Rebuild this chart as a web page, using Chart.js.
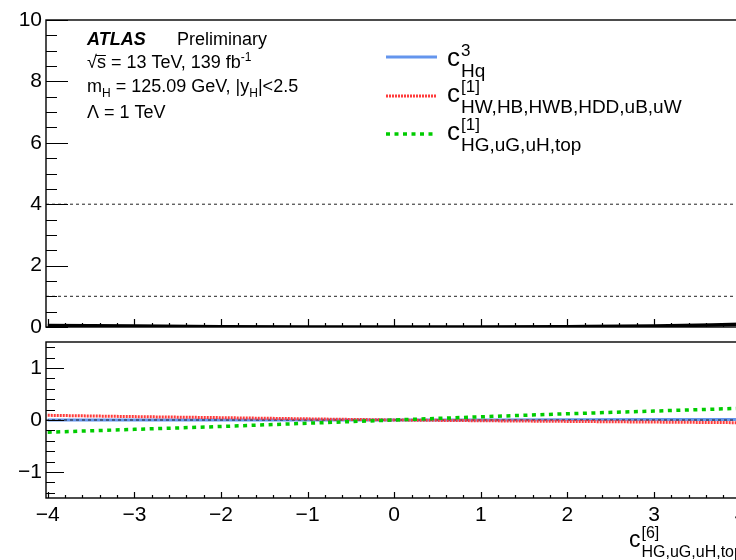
<!DOCTYPE html>
<html>
<head>
<meta charset="utf-8">
<script src="https://cdn.jsdelivr.net/npm/chart.js@4.4.1/dist/chart.umd.min.js"></script>
<style>
  html, body { margin: 0; padding: 0; background: #fff; overflow: hidden; }
  #wrap { position: relative; width: 820px; height: 560px; }
  #wrap canvas { position: absolute; left: 0; }
  #upper { top: 0; }
  #lower { top: 335px; }
</style>
</head>
<body>
<div id="wrap">
  <canvas id="upper" width="820" height="335"></canvas>
  <canvas id="lower" width="820" height="225"></canvas>
</div>
<script>
// values
const xValues = [-4, -3, -2, -1, 0, 1, 2, 3, 4];
const nllCurve = [0.05, 0.03, 0.01, 0.0, 0.0, 0.0, 0.01, 0.03, 0.09];
const shiftHq3 = [0.0, 0.0, 0.0, 0.0, 0.0, 0.0, 0.004, 0.008, 0.012];
const shiftHW = [0.09, 0.065, 0.045, 0.022, 0.0, -0.014, -0.027, -0.04, -0.052];
const shiftHG = [-0.235, -0.18, -0.125, -0.062, 0.0, 0.062, 0.12, 0.172, 0.225];
const upperRefLevels = [1, 4];
const lowerRefLevels = [0];

const xTicks = [-4, -3, -2, -1, 0, 1, 2, 3, 4];
const upperYTicks = [0, 2, 4, 6, 8, 10];
const lowerYTicks = [-1, 0, 1];

const legendSup = ['3', '[1]', '[1]'];
const legendSub = ['Hq', 'HW,HB,HWB,HDD,uB,uW', 'HG,uG,uH,top'];
const xTitleSup = '[6]';
const xTitleSub = 'HG,uG,uH,top';

const X_MIN = -4.02;
const X_MAX = 4.2;
const FONT = '"Liberation Sans", Arial, Helvetica, sans-serif';

Chart.defaults.font.family = FONT;
Chart.defaults.color = '#000';

const toPoints = (arr) => xValues.map((x, i) => ({ x, y: arr[i] }));
const refLine = (v) => ({
    data: [{ x: X_MIN, y: v }, { x: X_MAX, y: v }],
    borderColor: '#222',
    borderWidth: 1,
    borderDash: [3, 3],
    pointRadius: 0,
});
const minusLabel = (v) => String(v).replace('-', '\u2212');
const fixTicks = (list) => (scale) => { scale.ticks = list.map((value) => ({ value })); };

// draws a run of text pieces (size, vertical shift, weight/style)
function drawRich(ctx, x, y, parts) {
    parts.forEach((p) => {
        ctx.font = `${p.style || ''} ${p.size}px ${FONT}`;
        ctx.fillText(p.t, x, y + (p.dy || 0));
        x += ctx.measureText(p.t).width;
    });
    return x;
}

// ROOT-like frame with inward ticks
function panelFrame(cfg) {
    return {
        id: 'panelFrame',
        afterDatasetsDraw(chart) {
            const { ctx, chartArea: a, scales: { x, y } } = chart;
            ctx.save();
            ctx.strokeStyle = '#000';
            ctx.lineWidth = 1.4;
            ctx.strokeRect(a.left, a.top, a.right - a.left, a.bottom - a.top);
            ctx.lineWidth = 1.2;
            ctx.beginPath();
            for (let i = Math.ceil(y.min / cfg.yStep - 1e-6); i * cfg.yStep <= y.max + 1e-6; i++) {
                const v = i * cfg.yStep;
                const major = cfg.yMajor.some((m) => Math.abs(m - v) < 1e-6);
                const py = Math.round(y.getPixelForValue(v)) + 0.5;
                ctx.moveTo(a.left, py);
                ctx.lineTo(a.left + (major ? cfg.yLen : cfg.yLen / 2), py);
            }
            for (let i = Math.ceil(x.min / cfg.xStep - 1e-6); i * cfg.xStep <= x.max + 1e-6; i++) {
                const v = i * cfg.xStep;
                const major = cfg.xMajor.some((m) => Math.abs(m - v) < 1e-6);
                const px = Math.round(x.getPixelForValue(v)) + 0.5;
                ctx.moveTo(px, a.bottom);
                ctx.lineTo(px, a.bottom - (major ? cfg.xLen : cfg.xLen / 2));
            }
            ctx.stroke();
            ctx.restore();
        },
    };
}

const upperText = {
    id: 'upperText',
    afterDraw(chart) {
        const { ctx } = chart;
        ctx.save();
        ctx.fillStyle = '#000';
        ctx.textBaseline = 'alphabetic';
        drawRich(ctx, 87, 45, [{ t: 'ATLAS', size: 18, style: 'italic bold' }]);
        drawRich(ctx, 177, 45, [{ t: 'Preliminary', size: 18 }]);
        const sx = drawRich(ctx, 87, 68, [{ t: '\u221A', size: 18 }]);
        ctx.font = `18px ${FONT}`;
        const sw = ctx.measureText('s').width;
        ctx.lineWidth = 1;
        ctx.beginPath();
        ctx.moveTo(sx - 1, 55.5);
        ctx.lineTo(sx + sw, 55.5);
        ctx.stroke();
        const ex = drawRich(ctx, sx, 68, [{ t: 's = 13 TeV, 139 fb', size: 18 }]);
        drawRich(ctx, ex, 68, [{ t: '-1', size: 12, dy: -7 }]);
        drawRich(ctx, 87, 92, [
            { t: 'm', size: 18 }, { t: 'H', size: 12, dy: 5 },
            { t: ' = 125.09 GeV, |y', size: 18 }, { t: 'H', size: 12, dy: 5 },
            { t: '|<2.5', size: 18 },
        ]);
        drawRich(ctx, 87, 118, [{ t: '\u039B = 1 TeV', size: 18 }]);

        // legend
        const rows = [
            { y: 57, base: 66, color: '#6495ed', dash: [], width: 3 },
            { y: 96, base: 102, color: '#ff3b3b', dash: [2, 1], width: 3 },
            { y: 134, base: 140, color: '#00cc00', dash: [4, 4.5], width: 3.5 },
        ];
        rows.forEach((r, i) => {
            ctx.strokeStyle = r.color;
            ctx.lineWidth = r.width;
            ctx.setLineDash(r.dash);
            ctx.beginPath();
            ctx.moveTo(386, r.y);
            ctx.lineTo(437, r.y);
            ctx.stroke();
            ctx.setLineDash([]);
            const cx = drawRich(ctx, 447, r.base, [{ t: 'c', size: 26 }]);
            drawRich(ctx, cx + 1, r.base - 10, [{ t: legendSup[i], size: 17 }]);
            drawRich(ctx, cx + 1, r.base + 11, [{ t: legendSub[i], size: 19 }]);
        });
        ctx.restore();
    },
};

const lowerText = {
    id: 'lowerText',
    afterDraw(chart) {
        const { ctx } = chart;
        ctx.save();
        ctx.fillStyle = '#000';
        const base = 212;
        const cx = drawRich(ctx, 629, base, [{ t: 'c', size: 23 }]);
        drawRich(ctx, cx + 1, base - 9, [{ t: xTitleSup, size: 16 }]);
        drawRich(ctx, cx + 1, base + 10, [{ t: xTitleSub, size: 16 }]);
        ctx.restore();
    },
};

const baseScales = (yMin, yMax, yTicks, xLabels, xHeight) => ({
    x: {
        type: 'linear', min: X_MIN, max: X_MAX,
        afterBuildTicks: fixTicks(xTicks),
        afterFit: (s) => { s.height = xHeight; s.paddingLeft = 0; s.paddingRight = 0; },
        grid: { display: false, drawTicks: false },
        border: { display: false },
        ticks: { display: xLabels, font: { size: 21 }, padding: 5, maxRotation: 0, callback: minusLabel },
    },
    y: {
        min: yMin, max: yMax,
        afterBuildTicks: fixTicks(yTicks),
        afterFit: (s) => { s.width = 46; s.paddingTop = 0; s.paddingBottom = 0; },
        grid: { display: false, drawTicks: false },
        border: { display: false },
        ticks: { font: { size: 21 }, padding: 4, callback: minusLabel },
    },
});

new Chart(document.getElementById('upper'), {
    type: 'line',
    data: {
        datasets: [
            { data: toPoints(nllCurve), borderColor: '#000', borderWidth: 3.5, pointRadius: 0, cubicInterpolationMode: 'monotone' },
            ...upperRefLevels.map(refLine),
        ],
    },
    options: {
        responsive: false, animation: false, devicePixelRatio: 1,
        layout: { autoPadding: false, padding: { left: 0, right: 62, top: 20, bottom: 0 } },
        plugins: { legend: { display: false }, tooltip: { enabled: false } },
        scales: baseScales(0, 10, upperYTicks, false, 8),
    },
    plugins: [panelFrame({ yStep: 0.5, yMajor: upperYTicks, yLen: 22, xStep: 0.2, xMajor: xTicks, xLen: 8 }), upperText],
});

new Chart(document.getElementById('lower'), {
    type: 'line',
    data: {
        datasets: [
            { data: toPoints(shiftHG), borderColor: '#00cc00', borderWidth: 3.5, borderDash: [4, 4.5], pointRadius: 0, order: 0 },
            { data: toPoints(shiftHW), borderColor: '#ff3b3b', borderWidth: 3, borderDash: [2, 1], pointRadius: 0, order: 1 },
            ...lowerRefLevels.map((v) => ({ ...refLine(v), order: 2 })),
            { data: toPoints(shiftHq3), borderColor: '#6495ed', borderWidth: 3, pointRadius: 0, order: 3 },
        ],
    },
    options: {
        responsive: false, animation: false, devicePixelRatio: 1,
        layout: { autoPadding: false, padding: { left: 0, right: 62, top: 7, bottom: 0 } },
        plugins: { legend: { display: false }, tooltip: { enabled: false } },
        scales: baseScales(-1.5, 1.5, lowerYTicks, true, 62),
    },
    plugins: [panelFrame({ yStep: 0.2, yMajor: lowerYTicks, yLen: 18, xStep: 0.2, xMajor: xTicks, xLen: 6 }), lowerText],
});
</script>
</body>
</html>
